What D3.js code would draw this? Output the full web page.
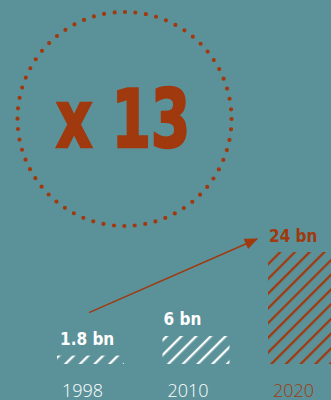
<!DOCTYPE html>
<html>
<head>
<meta charset="utf-8">
<script src="https://cdn.jsdelivr.net/npm/d3@7"></script>
<style>
  html, body { margin: 0; padding: 0; background: #5b9299; overflow: hidden; }
  svg { display: block; }
</style>
</head>
<body>
<script>
// Growth of the figure across three years
const years = ["1998", "2010", "2020"];
const values = [1.8, 6, 24];
const valueLabels = ["1.8 bn", "6 bn", "24 bn"];
const highlight = [false, false, true];
const growthLabel = "x 13";

const W = 331, H = 400;
const bg = "#5b9299", accent = "#a0390e", light = "#ffffff";

const svg = d3.select("body").append("svg")
  .attr("width", W).attr("height", H);

svg.append("rect").attr("width", W).attr("height", H).attr("fill", bg);

const defs = svg.append("defs");

// diagonal hatch fills, one per colour
function hatch(id, color) {
  const p = defs.append("pattern")
    .attr("id", id)
    .attr("patternUnits", "userSpaceOnUse")
    .attr("width", 10.4).attr("height", 10.4)
    .attr("patternTransform", "rotate(45)");
  p.append("line")
    .attr("x1", 2).attr("y1", 0).attr("x2", 2).attr("y2", 10.4)
    .attr("stroke", color).attr("stroke-width", 2.3);
}
hatch("hatch-light", light);
hatch("hatch-accent", accent);

defs.append("marker")
  .attr("id", "arrowhead")
  .attr("viewBox", "0 0 12 10")
  .attr("refX", 11).attr("refY", 5)
  .attr("markerUnits", "userSpaceOnUse")
  .attr("markerWidth", 14).attr("markerHeight", 11)
  .attr("orient", "auto")
  .append("path")
  .attr("d", "M0,0 L12,5 L0,10 Z")
  .attr("fill", accent);

// scales
const x = d3.scaleBand()
  .domain(years)
  .range([57, 335])
  .paddingInner(0.365)
  .paddingOuter(0);

const y = d3.scaleLinear()
  .domain([0, 24])
  .range([364, 252]);

const data = years.map((yr, i) => ({
  year: yr, value: values[i], label: valueLabels[i], hi: highlight[i]
}));

// bars
svg.append("g").selectAll("rect")
  .data(data)
  .join("rect")
  .attr("x", d => x(d.year))
  .attr("y", d => y(d.value))
  .attr("width", x.bandwidth())
  .attr("height", d => y(0) - y(d.value))
  .attr("fill", d => d.hi ? "url(#hatch-accent)" : "url(#hatch-light)");

// value labels
svg.append("g").selectAll("text")
  .data(data)
  .join("text")
  .attr("x", (d, i) => x(d.year) + (i === 0 ? 3 : 1))
  .attr("y", d => y(d.value) - (d.hi ? 10 : 11))
  .attr("fill", d => d.hi ? accent : light)
  .attr("font-family", "'DejaVu Sans Condensed', 'DejaVu Sans', sans-serif")
  .attr("font-stretch", "condensed")
  .attr("font-weight", "bold")
  .attr("font-size", 17)
  .text(d => d.label);

// year axis
const axis = d3.axisBottom(x).tickSize(0).tickPadding(0);
const gAxis = svg.append("g")
  .attr("transform", `translate(0, ${y(0)})`)
  .call(axis);
gAxis.select(".domain").remove();
gAxis.selectAll(".tick text")
  .attr("text-anchor", "start")
  .attr("x", -x.bandwidth() / 2 + 5)
  .attr("y", 32.5)
  .attr("dy", null)
  .attr("font-family", "'Open Sans', sans-serif")
  .attr("font-weight", 300)
  .attr("font-size", 18)
  .attr("fill", d => highlight[years.indexOf(d)] ? accent : light);

// arrow from first to last value
const first = data[0], last = data[data.length - 1];
svg.append("line")
  .attr("x1", x(first.year) + 32)
  .attr("y1", y(first.value) - 43)
  .attr("x2", x(last.year) - 11)
  .attr("y2", y(last.value) - 13)
  .attr("stroke", accent)
  .attr("stroke-width", 1.4)
  .attr("marker-end", "url(#arrowhead)");

// dotted ring with the growth factor
const cx = 124.5, cy = 119, r = 107;
svg.append("circle")
  .attr("cx", cx).attr("cy", cy).attr("r", r)
  .attr("fill", "none")
  .attr("stroke", accent)
  .attr("stroke-width", 4.2)
  .attr("stroke-linecap", "round")
  .attr("stroke-dasharray", `0 ${(2 * Math.PI * r) / 64}`);

svg.append("text")
  .attr("x", 123)
  .attr("y", 147)
  .attr("text-anchor", "middle")
  .attr("fill", accent)
  .attr("stroke", accent)
  .attr("stroke-width", 2.6)
  .attr("stroke-linejoin", "miter")
  .attr("font-family", "'DejaVu Sans Condensed', 'DejaVu Sans', sans-serif")
  .attr("font-stretch", "condensed")
  .attr("font-weight", "bold")
  .attr("font-size", 80)
  .attr("textLength", 134)
  .attr("lengthAdjust", "spacingAndGlyphs")
  .text(growthLabel);
</script>
</body>
</html>
